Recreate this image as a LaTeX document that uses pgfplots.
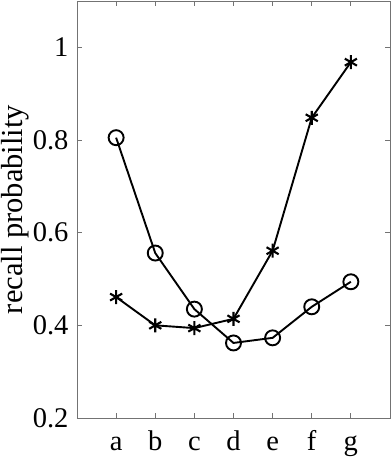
\documentclass[border=0pt]{standalone}
\usepackage{pgfplots}
\pgfplotsset{compat=1.18}
\usepackage{fontspec}
\setmainfont{Liberation Serif}
\begin{document}
\begin{tikzpicture}
\begin{axis}[
  scale only axis,
  width=313pt, height=417pt,
  xmin=0, xmax=8, ymin=0.2, ymax=1.1,
  xtick={1,2,3,4,5,6,7},
  xticklabels={a,b,c,d,e,f,g},
  ytick={0.2,0.4,0.6,0.8,1},
  yticklabels={0.2,0.4,0.6,0.8,1},
  /pgf/number format/assume math mode=true,
  tick align=inside,
  major tick length=5pt,
  axis line style={draw=black!55, line width=0.8pt},
  every tick/.style={black!55, line width=0.8pt},
  tick label style={font=\fontsize{28.5}{30}\selectfont},
  xticklabel style={anchor=base, yshift=-32pt},
  yticklabel style={xshift=-5pt},
  ylabel={recall probability},
  ylabel style={font=\fontsize{30.5}{33}\selectfont, yshift=-3pt},
  clip=false,
]
\addplot[black, line width=1.9pt, mark=o, mark size=7.5pt, mark options={line width=1.9pt}]
  coordinates {(1,0.805) (2,0.556) (3,0.435) (4,0.362) (5,0.373) (6,0.440) (7,0.494)};
\addplot[black, line width=1.9pt, mark=asterisk, mark size=7pt, mark options={line width=2.1pt}]
  coordinates {(1,0.461) (2,0.400) (3,0.394) (4,0.414) (5,0.561) (6,0.848) (7,0.968)};
\end{axis}
\pgfresetboundingbox
\path ([xshift=-77pt,yshift=-40pt]current axis.south west) rectangle ([xshift=2pt,yshift=1pt]current axis.north east);
\end{tikzpicture}
\end{document}
